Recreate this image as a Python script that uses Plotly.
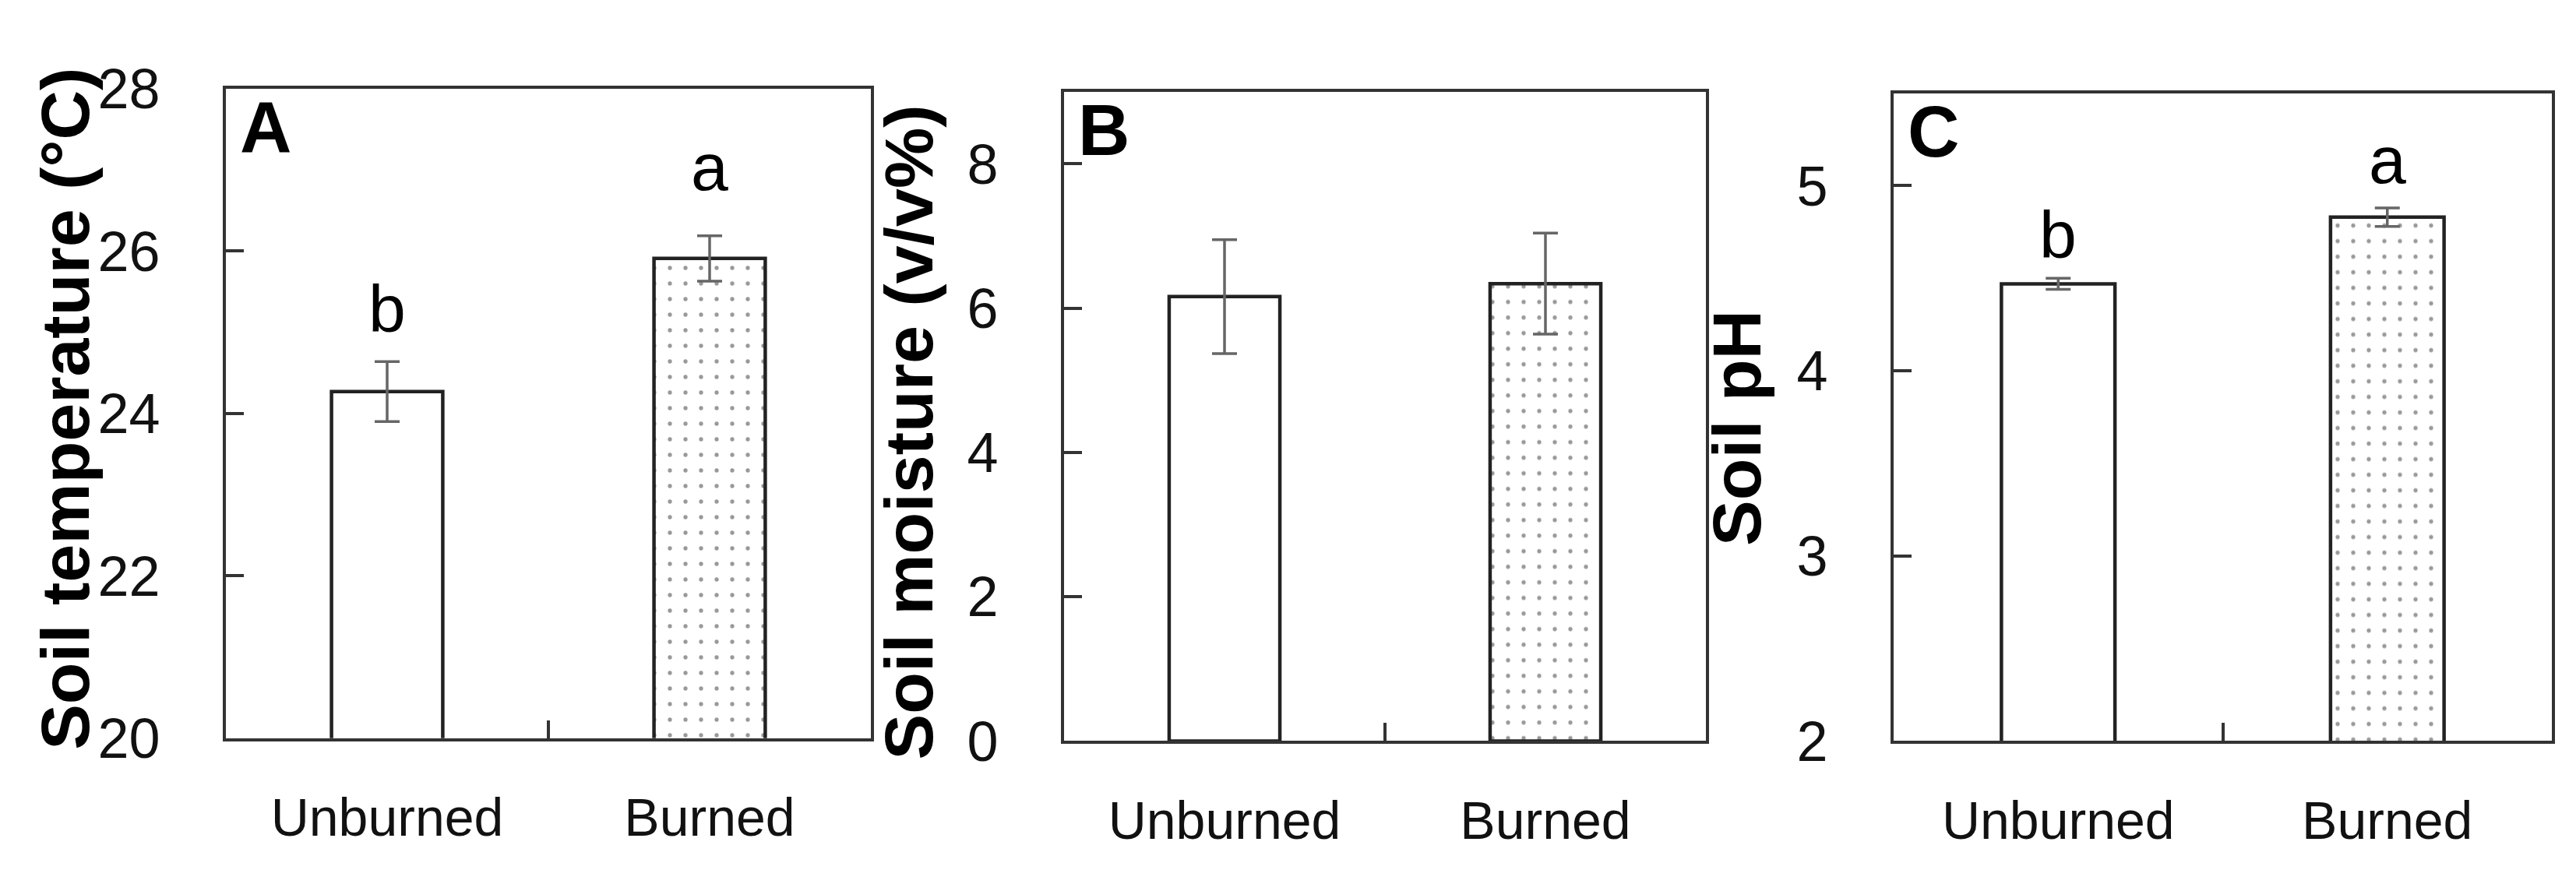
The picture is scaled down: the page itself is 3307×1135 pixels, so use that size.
import plotly.graph_objects as go

# ---------------- data ----------------
categories = ["Unburned", "Burned"]
temp_mean = [24.27, 25.91]
temp_se = [0.37, 0.28]
temp_letters = ["b", "a"]

moist_mean = [6.16, 6.34]
moist_se = [0.79, 0.70]
moist_letters = ["", ""]

ph_mean = [4.47, 4.83]
ph_se = [0.03, 0.05]
ph_letters = ["b", "a"]

panel_labels = ["A", "B", "C"]
y_titles = ["Soil temperature (°C)", "Soil moisture (v/v%)", "Soil pH"]
y_ranges = [[20, 28], [0, 9], [2, 5.5]]
y_dticks = [2, 2, 1]

# ---------------- layout constants (pixels) ----------------
W, H = 3307, 1135
# (left, right, top, bottom) of each plot area in pixels
boxes = [(282, 1110, 71, 968), (1358, 2182, 75, 972), (2423, 3268, 77, 972)]
title_pos = [(76, 513), (1159, 546), (2222, 540)]
letter_shift = [[18, 39], [0, 0], [6, 12]]

NARROW = "Liberation Sans Narrow, Arial Narrow, Liberation Sans, Arial, sans-serif"
BOLD = "Liberation Sans, Arial, sans-serif"
AXC = "#333333"

fig = go.Figure()

series = [(temp_mean, temp_se, temp_letters),
          (moist_mean, moist_se, moist_letters),
          (ph_mean, ph_se, ph_letters)]

annotations = []
for i, (means, ses, letters) in enumerate(series):
    xa = "x" if i == 0 else f"x{i+1}"
    ya = "y" if i == 0 else f"y{i+1}"
    fig.add_trace(go.Bar(
        x=categories, y=means,
        xaxis=xa, yaxis=ya,
        width=0.345,
        marker=dict(
            color="white",
            line=dict(color="#222222", width=4.5),
            pattern=dict(shape=["", "."], size=20, solidity=0.055,
                         fgcolor="#333333", bgcolor="white", fillmode="overlay"),
        ),
        error_y=dict(type="data", array=ses, visible=True,
                     color="#666666", thickness=3.5, width=16),
        showlegend=False,
    ))
    l, r, t, b = boxes[i]
    xdom = [l / W, r / W]
    ydom = [1 - b / H, 1 - t / H]
    axis_common = dict(showline=True, linewidth=4, linecolor=AXC, mirror=True,
                       ticks="inside", ticklen=23, tickwidth=4, tickcolor=AXC,
                       showgrid=False, zeroline=False)
    fig.update_layout(**{
        ("xaxis" if i == 0 else f"xaxis{i+1}"): dict(
            domain=xdom, anchor=ya, type="category", range=[-0.5, 1.5],
            tickson="boundaries", ticklabelstandoff=40,
            tickfont=dict(family=NARROW, size=68, color="#111111"),
            **axis_common),
        ("yaxis" if i == 0 else f"yaxis{i+1}"): dict(
            domain=ydom, anchor=xa, range=y_ranges[i], dtick=y_dticks[i],
            ticklabelstandoff=66,
            tickfont=dict(family=NARROW, size=72, color="#111111"),
            **axis_common),
    })
    # panel letter
    annotations.append(dict(
        text=f"<b>{panel_labels[i]}</b>", xref="paper", yref="paper",
        x=(l + 16) / W, y=1 - (t - 4) / H, xanchor="left", yanchor="top",
        showarrow=False, font=dict(family=NARROW, size=92, color="#000000")))
    # y title
    tx, ty = title_pos[i]
    annotations.append(dict(
        text=f"<b>{y_titles[i]}</b>", xref="paper", yref="paper",
        x=tx / W, y=1 - ty / H, xanchor="center", yanchor="middle",
        textangle=-90, showarrow=False,
        font=dict(family=BOLD, size=88, color="#000000")))
    # significance letters
    for j, cat in enumerate(categories):
        if letters[j]:
            annotations.append(dict(
                text=letters[j], xref=xa, yref=ya, x=cat,
                y=means[j] + ses[j], yanchor="bottom", showarrow=False,
                yshift=letter_shift[i][j],
                font=dict(family=NARROW, size=86, color="#000000")))

fig.update_layout(
    width=W, height=H,
    margin=dict(l=0, r=0, t=0, b=0),
    paper_bgcolor="white", plot_bgcolor="white",
    annotations=annotations,
    bargap=0.3,
)

fig.write_html("out.html")
